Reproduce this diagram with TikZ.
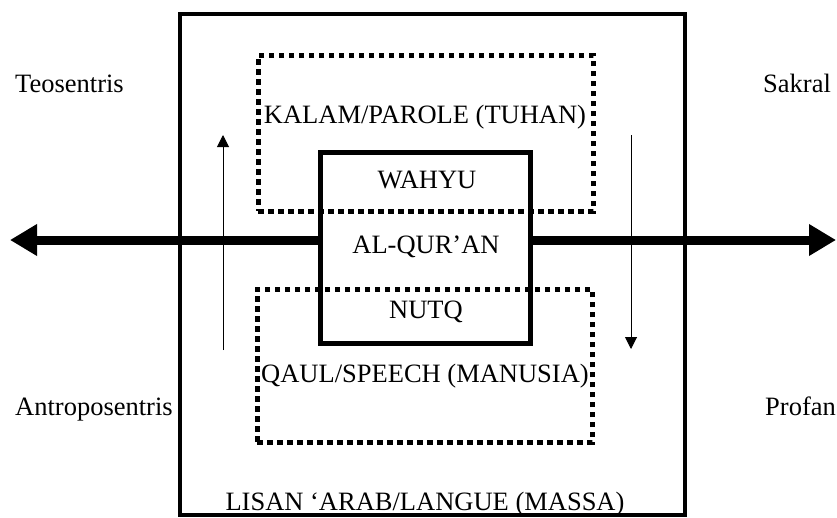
\documentclass[tikz,border=0pt]{standalone}
\usepackage{fontspec}
\setmainfont{Liberation Serif}
\usetikzlibrary{arrows.meta}
\begin{document}
\begin{tikzpicture}[x=1pt,y=-1pt,
  lbl/.style={inner sep=0pt,font=\fontsize{26.5}{31}\selectfont},
  solidbox/.style={draw,line width=#1,inner sep=0pt,outer sep=0pt},
  dotbox/.style={draw,line width=5pt,dash pattern=on 5.5pt off 4.5pt,inner sep=0pt,outer sep=0pt},
  bigarrow/.style={line width=9pt,-{Triangle[length=27pt,width=30pt]}},
  thinarrow/.style={line width=1pt,-{Triangle[length=12pt,width=12pt]}}]
\useasboundingbox (0,0) rectangle (837,517);
% outer box
\node[solidbox=4.5pt,minimum width=505pt,minimum height=501pt] (outer) at (432.5,264.5) {};
% dotted boxes
\node[dotbox,minimum width=335pt,minimum height=156pt] (top) at (425.5,133) {};
\node[dotbox,minimum width=335pt,minimum height=153pt] (bot) at (424.5,365.5) {};
% inner box
\node[solidbox=5pt,minimum width=210pt,minimum height=191pt] (inner) at (425,247.5) {};
% labels
\node[lbl,anchor=base west] (teo) at (15,92) {Teosentris};
\node[lbl,anchor=base west] (sak) at (763,92) {Sakral};
\node[lbl,anchor=base west] (ant) at (15,415) {Antroposentris};
\node[lbl,anchor=base west] (pro) at (765,415) {Profan};
\node[lbl,anchor=base] (kal) at (425,123) {KALAM/PAROLE (TUHAN)};
\node[lbl,anchor=base] (wah) at (427,188) {WAHYU};
\node[lbl,anchor=base] (qur) at (426,253) {AL-QUR’AN};
\node[lbl,anchor=base] (nut) at (426,318) {NUTQ};
\node[lbl,anchor=base] (qau) at (425,382) {QAUL/SPEECH (MANUSIA)};
\node[lbl,anchor=base] (lis) at (425,510) {LISAN ‘ARAB/LANGUE (MASSA)};
% arrows
\coordinate (lt) at (10,240);
\coordinate (rt) at (836,240);
\draw[bigarrow] (inner.west |- lt) -- (lt);
\draw[bigarrow] (inner.east |- rt) -- (rt);
\coordinate (upS) at (223,350);
\coordinate (upE) at (223,135);
\coordinate (dnS) at (631,135);
\coordinate (dnE) at (631,349);
\draw[thinarrow] (upS) -- (upE);
\draw[thinarrow] (dnS) -- (dnE);
\end{tikzpicture}
\end{document}
